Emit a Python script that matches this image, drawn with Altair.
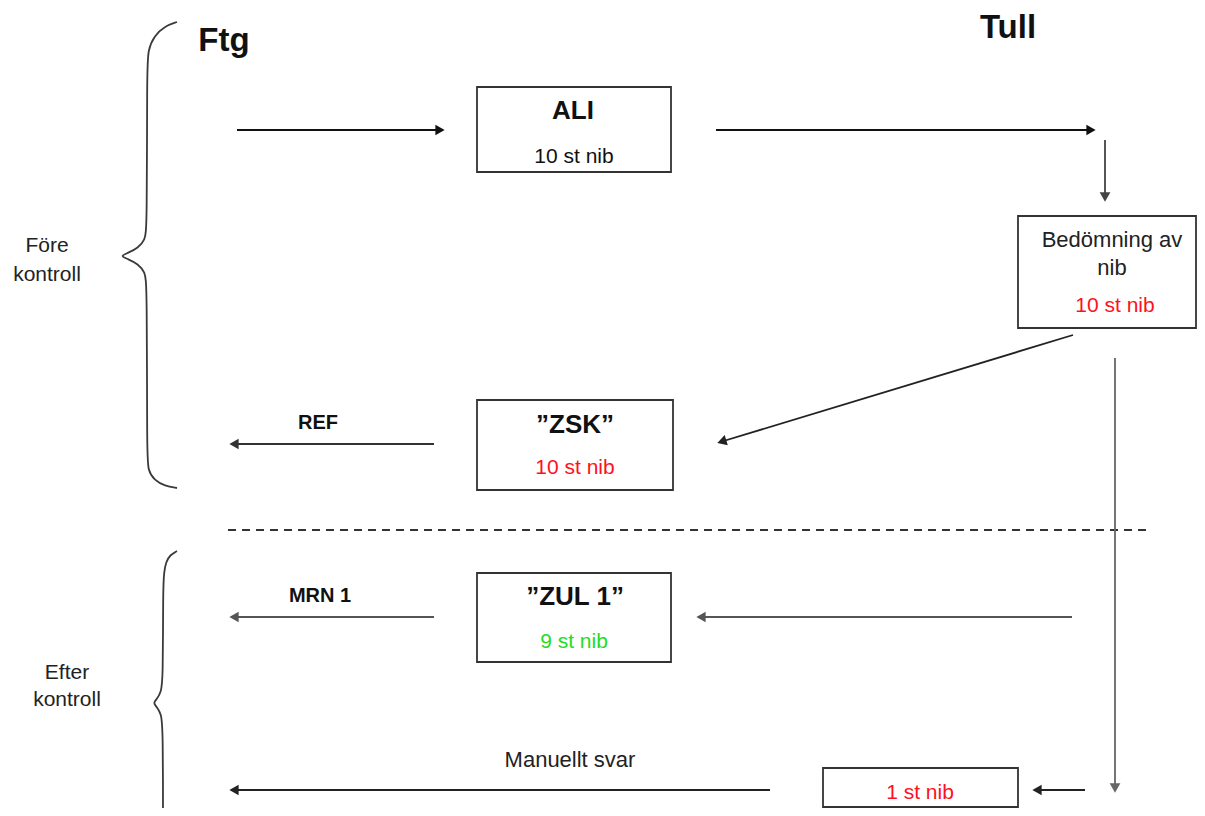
import math
import altair as alt
import pandas as pd

# ---------------- data ----------------
# boxes (image-pixel geometry of the diagram)
box_x1 = [477, 1018, 477, 477, 823]
box_x2 = [671, 1196, 673, 671, 1018]
box_y1 = [87, 216, 400, 573, 768]
box_y2 = [172, 328, 490, 662, 807]

# arrows: start -> end (the end carries the head)
arr_x1 = [237, 716, 1105, 1073, 434, 1072, 434, 1115, 1085, 770]
arr_y1 = [130, 130, 140, 335, 444, 617, 617, 358, 790, 790]
arr_x2 = [445, 1096, 1105, 717, 229, 696, 229, 1115, 1032, 229]
arr_y2 = [130, 130, 202, 443, 444, 617, 617, 793, 790, 790]
arr_col = ["#111111", "#111111", "#444444", "#222222", "#333333",
           "#555555", "#555555", "#666666", "#222222", "#222222"]

# dashed separator
dash_x = [228, 1150]
dash_y = [530, 530]

# braces (hand-traced outline points)
brace1_x = [177, 165, 154, 148, 147, 147, 145, 138, 128, 120, 128, 138, 145, 147, 147, 148, 154, 165, 177]
brace1_y = [22, 26, 36, 50, 70, 228, 240, 248, 253, 256, 259, 264, 272, 284, 455, 470, 480, 486, 488]
brace2_x = [177, 170, 166, 164, 163, 163, 161, 157, 153, 157, 161, 163, 163]
brace2_y = [551, 555, 562, 572, 590, 680, 692, 699, 703, 707, 714, 726, 840]

# bold labels
bold_text = ["Ftg", "Tull", "ALI", "\u201dZSK\u201d", "\u201dZUL 1\u201d", "REF", "MRN 1"]
bold_x = [224, 1008, 573, 575, 575, 318, 320]
bold_y = [41, 28, 111, 425, 597, 423, 596]
bold_size = [33, 33, 26, 26, 26, 20, 20]

# regular labels
reg_text = ["Före", "kontroll", "Efter", "kontroll", "10 st nib", "Bedömning av", "nib",
            "10 st nib", "10 st nib", "9 st nib", "1 st nib", "Manuellt svar"]
reg_x = [47, 47, 67, 67, 574, 1112, 1112, 1115, 575, 574, 920, 570]
reg_y = [246, 275, 673, 700, 157, 240, 268, 306, 468, 642, 793, 760]
reg_col = ["#222222", "#222222", "#222222", "#222222", "#111111", "#222222", "#222222",
           "#ff1020", "#ff1020", "#22dd22", "#ff1020", "#222222"]
reg_size = [21, 21, 21, 21, 21, 22, 22, 21, 21, 21, 21, 22]

# ---------------- tables ----------------
boxes = pd.DataFrame({"x1": box_x1, "x2": box_x2, "y1": box_y1, "y2": box_y2})
arrows = pd.DataFrame({"x1": arr_x1, "y1": arr_y1, "x2": arr_x2, "y2": arr_y2, "c": arr_col})

heads = []
x2s, y2s = [], []
for x1, y1, x2, y2, c in zip(arr_x1, arr_y1, arr_x2, arr_y2, arr_col):
    dx, dy = x2 - x1, y2 - y1
    L = math.hypot(dx, dy)
    ux, uy = dx / L, dy / L
    ang = (math.degrees(math.atan2(dy, dx)) + 90) % 360
    heads.append({"x": x2 - ux * 5, "y": y2 - uy * 5, "ang": ang, "c": c})
    x2s.append(x2 - ux * 6)
    y2s.append(y2 - uy * 6)
heads = pd.DataFrame(heads)
arrows["x2s"] = x2s
arrows["y2s"] = y2s

dash = pd.DataFrame({"x1": [dash_x[0]], "x2": [dash_x[1]], "y1": [dash_y[0]], "y2": [dash_y[1]]})
brace = pd.concat([
    pd.DataFrame({"x": brace1_x, "y": brace1_y, "o": range(len(brace1_x)), "b": "b1"}),
    pd.DataFrame({"x": brace2_x, "y": brace2_y, "o": range(len(brace2_x)), "b": "b2"}),
])
bold = pd.DataFrame({"t": bold_text, "x": bold_x, "y": bold_y, "s": bold_size})
reg = pd.DataFrame({"t": reg_text, "x": reg_x, "y": reg_y, "c": reg_col, "s": reg_size})

# ---------------- scales ----------------
W, H = 1189, 800
xs = alt.Scale(domain=[8, 8 + W], nice=False, zero=False)
ys = alt.Scale(domain=[8, 8 + H], nice=False, zero=False, reverse=True)
X = lambda f: alt.X(f, type="quantitative", scale=xs, axis=None)
Y = lambda f: alt.Y(f, type="quantitative", scale=ys, axis=None)
FONT = "Liberation Sans"

rects = alt.Chart(boxes).mark_rect(fill="white", stroke="#333333", strokeWidth=1.8).encode(
    x=X("x1"), x2="x2", y=Y("y1"), y2="y2")

shafts = alt.Chart(arrows).mark_rule(strokeWidth=1.8).encode(
    x=X("x1"), y=Y("y1"), x2="x2s", y2="y2s", color=alt.Color("c:N", scale=None))

tips = alt.Chart(heads).mark_point(shape="triangle-up", filled=True, size=115, opacity=1).encode(
    x=X("x"), y=Y("y"), angle=alt.Angle("ang:Q", scale=None), color=alt.Color("c:N", scale=None))

dashed = alt.Chart(dash).mark_rule(strokeWidth=1.8, strokeDash=[8, 6], color="#333333").encode(
    x=X("x1"), y=Y("y1"), x2="x2", y2="y2")

braces = alt.Chart(brace).mark_line(interpolate="basis", strokeWidth=1.8, color="#3a3a3a", clip=False).encode(
    x=X("x"), y=Y("y"), order="o:Q", detail="b:N")

bold_t = alt.Chart(bold).mark_text(font=FONT, fontWeight="bold", align="center", baseline="middle",
                                   color="#111111").encode(
    x=X("x"), y=Y("y"), text="t:N", size=alt.Size("s:Q", scale=None))

reg_t = alt.Chart(reg).mark_text(font=FONT, align="center", baseline="middle").encode(
    x=X("x"), y=Y("y"), text="t:N", size=alt.Size("s:Q", scale=None), color=alt.Color("c:N", scale=None))

chart = alt.layer(dashed, braces, shafts, tips, rects, bold_t, reg_t).properties(
    width=W, height=H, autosize=alt.AutoSizeParams(type="none"), padding=0
).configure(background="white").configure_view(strokeWidth=0)

chart.save("out.html", embed_options={"renderer": "svg", "actions": False})
